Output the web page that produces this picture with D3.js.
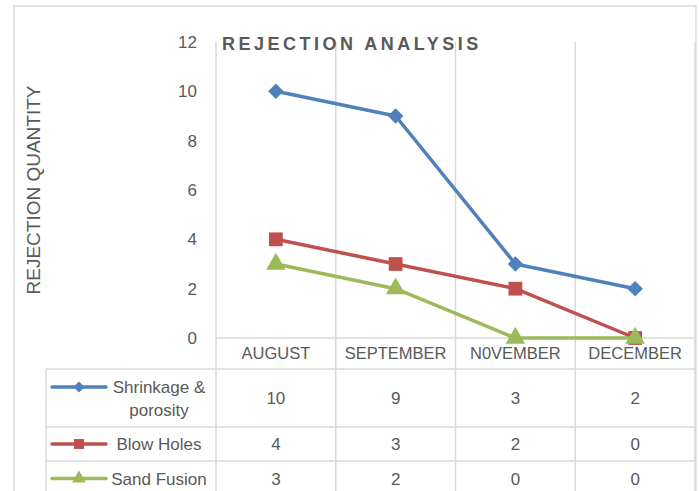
<!DOCTYPE html>
<html>
<head>
<meta charset="utf-8">
<script src="https://d3js.org/d3.v7.min.js"></script>
<style>
  body { margin: 0; background: #fff; }
  text { font-family: "Liberation Sans", Arial, sans-serif; fill: #595959; }
</style>
</head>
<body>
<div id="chart"></div>
<script>
var months = ["AUGUST", "SEPTEMBER", "N0VEMBER", "DECEMBER"];
var shrinkage = [10, 9, 3, 2];
var blowHoles = [4, 3, 2, 0];
var sandFusion = [3, 2, 0, 0];
var yTicks = [0, 2, 4, 6, 8, 10, 12];

var series = [
    { name: ["Shrinkage &", "porosity"], values: shrinkage, color: "#4f81bd", symbol: "diamond" },
    { name: ["Blow Holes"], values: blowHoles, color: "#c0504d", symbol: "square" },
    { name: ["Sand Fusion"], values: sandFusion, color: "#9bbb59", symbol: "triangle" }
];

var W = 699, H = 491;
var plot = { left: 216, right: 695, top: 42, bottom: 338 };
var tableLeft = 46;
var rowEdges = [338, 369, 427, 461, 496];
var grid = "#d9d9d9";

var svg = d3.select("#chart")
    .append("svg")
    .attr("width", W)
    .attr("height", H);

// chart border
svg.append("rect")
    .attr("x", 14).attr("y", 6)
    .attr("width", 682).attr("height", 500)
    .attr("fill", "none")
    .attr("stroke", grid)
    .attr("stroke-width", 1.5);

var x = d3.scaleBand()
    .domain(months)
    .range([plot.left, plot.right]);

var y = d3.scaleLinear()
    .domain([0, 12])
    .range([plot.bottom, plot.top]);

// vertical category gridlines, running down through the table
var edges = months.map(d => x(d)).concat([plot.right]);
svg.selectAll(".vgrid")
    .data(edges)
    .join("line")
    .attr("x1", d => d).attr("x2", d => d)
    .attr("y1", plot.top).attr("y2", H + 5)
    .attr("stroke", grid)
    .attr("stroke-width", 1.5);

// table horizontal rules
svg.selectAll(".hrule")
    .data(rowEdges)
    .join("line")
    .attr("x1", (d, i) => i == 0 ? plot.left : tableLeft)
    .attr("x2", plot.right)
    .attr("y1", d => d).attr("y2", d => d)
    .attr("stroke", grid)
    .attr("stroke-width", 1.5);

svg.append("line")
    .attr("x1", tableLeft).attr("x2", tableLeft)
    .attr("y1", rowEdges[1]).attr("y2", H + 5)
    .attr("stroke", grid)
    .attr("stroke-width", 1.5);

// y axis
var yAxis = svg.append("g")
    .attr("transform", "translate(" + (plot.left - 19) + ",0)")
    .call(d3.axisLeft(y).tickValues(yTicks).tickSize(0).tickPadding(0));
yAxis.select(".domain").remove();
yAxis.selectAll("text")
    .style("font-size", "17px")
    .style("fill", "#595959")
    .style("font-family", "Liberation Sans, Arial, sans-serif");

// category labels
svg.selectAll(".cat")
    .data(months)
    .join("text")
    .attr("x", d => x(d) + x.bandwidth() / 2)
    .attr("y", 359)
    .attr("text-anchor", "middle")
    .style("font-size", "16.5px")
    .text(d => d);

// title
svg.append("text")
    .attr("x", 222)
    .attr("y", 50)
    .style("font-size", "18px")
    .style("font-weight", "bold")
    .style("letter-spacing", "3.5px")
    .text("REJECTION ANALYSIS");

// y title
svg.append("text")
    .attr("transform", "translate(40,190) rotate(-90)")
    .attr("text-anchor", "middle")
    .style("font-size", "19px")
    .text("REJECTION QUANTITY");

function symbolPath(type, scale) {
    if (type == "diamond")
        return d3.symbol(d3.symbolSquare, 120 * scale * scale)();
    if (type == "square")
        return d3.symbol(d3.symbolSquare, 190 * scale * scale)();
    return d3.symbol(d3.symbolTriangle, 165 * scale * scale)();
}

var line = d3.line()
    .x((d, i) => x(months[i]) + x.bandwidth() / 2)
    .y(d => y(d));

series.forEach(function (s) {
    var g = svg.append("g");
    g.append("path")
        .datum(s.values)
        .attr("d", line)
        .attr("fill", "none")
        .attr("stroke", s.color)
        .attr("stroke-width", 3.5)
        .attr("stroke-linejoin", "round");
    g.selectAll("path.marker")
        .data(s.values)
        .join("path")
        .attr("class", "marker")
        .attr("d", symbolPath(s.symbol, 1))
        .attr("transform", (d, i) => "translate(" + (x(months[i]) + x.bandwidth() / 2) + "," + y(d) + ")" + (s.symbol == "diamond" ? " rotate(45)" : ""))
        .attr("fill", s.color);
});

// data table rows
series.forEach(function (s, r) {
    var top = rowEdges[r + 1], bot = rowEdges[r + 2];
    var mid = (top + bot) / 2;
    var ly = mid - 11 * (s.name.length - 1);

    svg.append("line")
        .attr("x1", 52).attr("x2", 106)
        .attr("y1", ly).attr("y2", ly)
        .attr("stroke", s.color)
        .attr("stroke-width", 3.5)
        .attr("stroke-linecap", "round");
    svg.append("path")
        .attr("d", symbolPath(s.symbol, 0.72))
        .attr("transform", "translate(79," + ly + ")" + (s.symbol == "diamond" ? " rotate(45)" : ""))
        .attr("fill", s.color);

    var label = svg.append("text")
        .attr("text-anchor", "middle")
        .style("font-size", "17px");
    label.selectAll("tspan")
        .data(s.name)
        .join("tspan")
        .attr("x", 159)
        .attr("y", (d, i) => ly + 6 + i * 23)
        .text(d => d);

    svg.selectAll(".val" + r)
        .data(s.values)
        .join("text")
        .attr("x", (d, i) => x(months[i]) + x.bandwidth() / 2)
        .attr("y", mid + 6)
        .attr("text-anchor", "middle")
        .style("font-size", "17px")
        .text(d => d);
});
</script>
</body>
</html>
